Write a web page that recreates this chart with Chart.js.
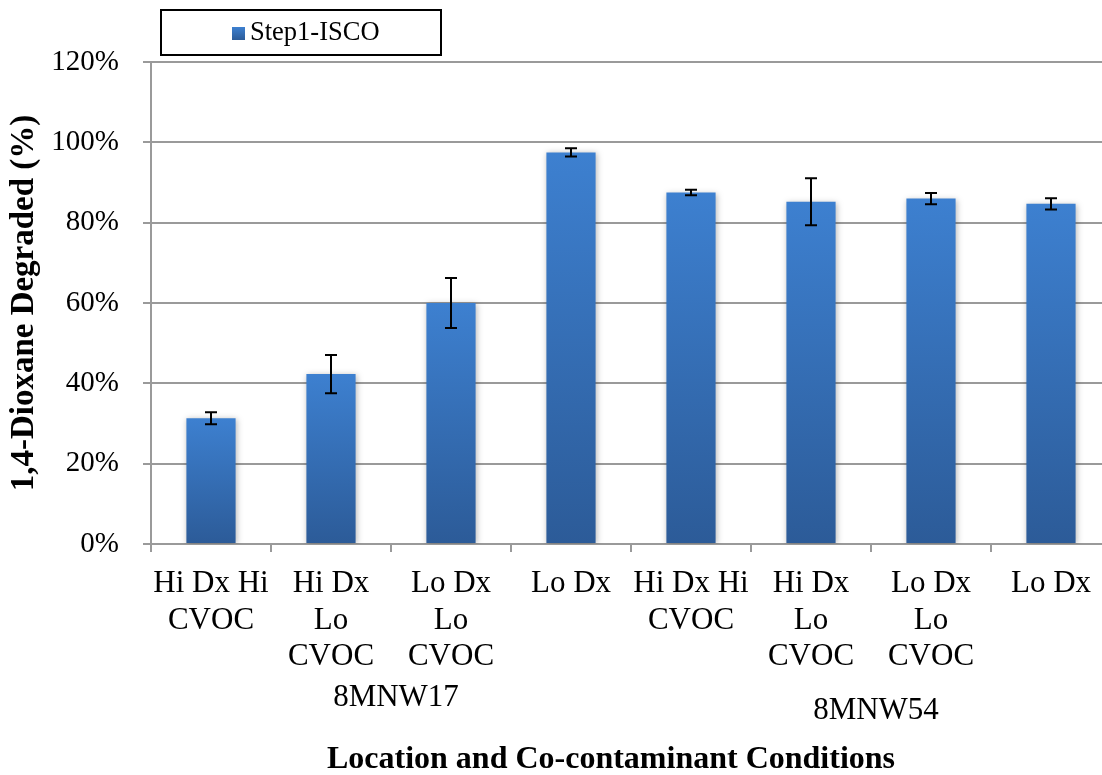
<!DOCTYPE html>
<html>
<head>
<meta charset="utf-8">
<script src="https://cdn.jsdelivr.net/npm/chart.js@4.4.1/dist/chart.umd.min.js"></script>
<style>
  html, body { margin: 0; padding: 0; background: #fff; overflow: hidden; }
  #wrap { position: absolute; left: 0; top: 0; width: 1112px; height: 775px; }
</style>
</head>
<body>
<div id="wrap"><canvas id="chart"></canvas></div>
<script>
// data
const categories = [
    ["Hi Dx Hi", "CVOC"], ["Hi Dx", "Lo", "CVOC"], ["Lo Dx", "Lo", "CVOC"], "Lo Dx",
    ["Hi Dx Hi", "CVOC"], ["Hi Dx", "Lo", "CVOC"], ["Lo Dx", "Lo", "CVOC"], "Lo Dx"
];
const locations = ["8MNW17", "8MNW54"];
const locationFirst = [0, 4];
const locationLast = [3, 7];
const seriesName = "Step1-ISCO";
const degraded = [31.3, 42.3, 60.0, 97.5, 87.5, 85.2, 86.0, 84.7];
const errors = [1.5, 4.75, 6.2, 1.0, 0.7, 5.85, 1.4, 1.4];
const yMin = 0, yMax = 120, yStep = 20;

const serif = "'Liberation Serif', 'Times New Roman', serif";
const gridGray = "#9a9a9a";

function barGradient(ctx, top, bottom) {
    var g = ctx.createLinearGradient(0, top, 0, bottom);
    g.addColorStop(0, "#3d80d0");
    g.addColorStop(1, "#2c5b98");
    return g;
}

var extras = {
    id: "extras",
    beforeDatasetsDraw: function(chart) {
        var c = chart.ctx;
        c.save();
        c.shadowColor = "rgba(0,0,0,0.28)";
        c.shadowBlur = 6;
        c.shadowOffsetX = 1;
        c.shadowOffsetY = 1;
    },
    afterDatasetsDraw: function(chart) {
        var c = chart.ctx;
        c.restore();
        var y = chart.scales.y;
        var meta = chart.getDatasetMeta(0);
        c.save();
        c.strokeStyle = "#000";
        c.lineWidth = 2;
        meta.data.forEach(function(bar, i) {
            var top = y.getPixelForValue(degraded[i] + errors[i]);
            var bot = y.getPixelForValue(degraded[i] - errors[i]);
            c.beginPath();
            c.moveTo(bar.x, top); c.lineTo(bar.x, bot);
            c.moveTo(bar.x - 6, top); c.lineTo(bar.x + 6, top);
            c.moveTo(bar.x - 6, bot); c.lineTo(bar.x + 6, bot);
            c.stroke();
        });
        c.restore();
    },
    afterDraw: function(chart) {
        var c = chart.ctx;
        var x = chart.scales.x;
        var area = chart.chartArea;
        c.save();
        // location group labels
        c.fillStyle = "#000";
        c.textAlign = "center";
        c.textBaseline = "middle";
        c.font = "31px " + serif;
        var groupY = [154, 167];
        locations.forEach(function(name, k) {
            var cx = (x.getPixelForValue(locationFirst[k]) + x.getPixelForValue(locationLast[k])) / 2 + 5;
            c.fillText(name, cx, area.bottom + groupY[k]);
        });
        // axis title
        c.font = "bold 32px " + serif;
        c.fillText("Location and Co-contaminant Conditions", 611, 760);
        // legend
        c.lineWidth = 2;
        c.strokeStyle = "#000";
        c.strokeRect(161, 10, 280, 45);
        c.fillStyle = barGradient(c, 27, 40);
        c.fillRect(232, 27, 13, 13);
        c.fillStyle = "#000";
        c.textAlign = "left";
        c.font = "26.5px " + serif;
        c.fillText(seriesName, 250, 33);
        c.restore();
    }
};

var ctx = document.getElementById("chart").getContext("2d");
var chart = new Chart(ctx, {
    type: "bar",
    data: {
        labels: categories,
        datasets: [{
            label: seriesName,
            data: degraded,
            backgroundColor: function(context) {
                var ch = context.chart;
                if (!ch.chartArea) return "#3a78c6";
                var y = ch.scales.y;
                var v = context.parsed ? context.parsed.y : degraded[context.dataIndex];
                return barGradient(ch.ctx, y.getPixelForValue(v), y.getPixelForValue(0));
            },
            borderWidth: 0,
            barPercentage: 0.41,
            categoryPercentage: 1
        }]
    },
    options: {
        responsive: true,
        maintainAspectRatio: false,
        animation: false,
        layout: { padding: { top: 62, right: 1, bottom: 0, left: 0 } },
        plugins: {
            legend: { display: false },
            tooltip: { enabled: false }
        },
        scales: {
            x: {
                grid: { offset: true, drawOnChartArea: false, drawTicks: true, tickLength: 8, color: gridGray, lineWidth: 2 },
                border: { color: gridGray, width: 2 },
                ticks: {
                    color: "#000",
                    font: { family: serif, size: 31, lineHeight: 1.17 },
                    padding: 14,
                    maxRotation: 0,
                    autoSkip: false
                },
                afterFit: function(s) { s.height = 231; }
            },
            y: {
                min: yMin,
                max: yMax,
                ticks: {
                    stepSize: yStep,
                    color: "#000",
                    font: { family: serif, size: 29 },
                    padding: 24,
                    callback: function(v) { return v + "%"; }
                },
                grid: { color: gridGray, lineWidth: 2, tickLength: 8 },
                border: { color: gridGray, width: 2 },
                title: {
                    display: true,
                    text: "1,4-Dioxane Degraded (%)",
                    color: "#000",
                    font: { family: serif, size: 33, weight: "bold" },
                    padding: { top: 5, bottom: 0 }
                },
                afterFit: function(s) { s.width = 151; }
            }
        }
    },
    plugins: [extras]
});
</script>
</body>
</html>
